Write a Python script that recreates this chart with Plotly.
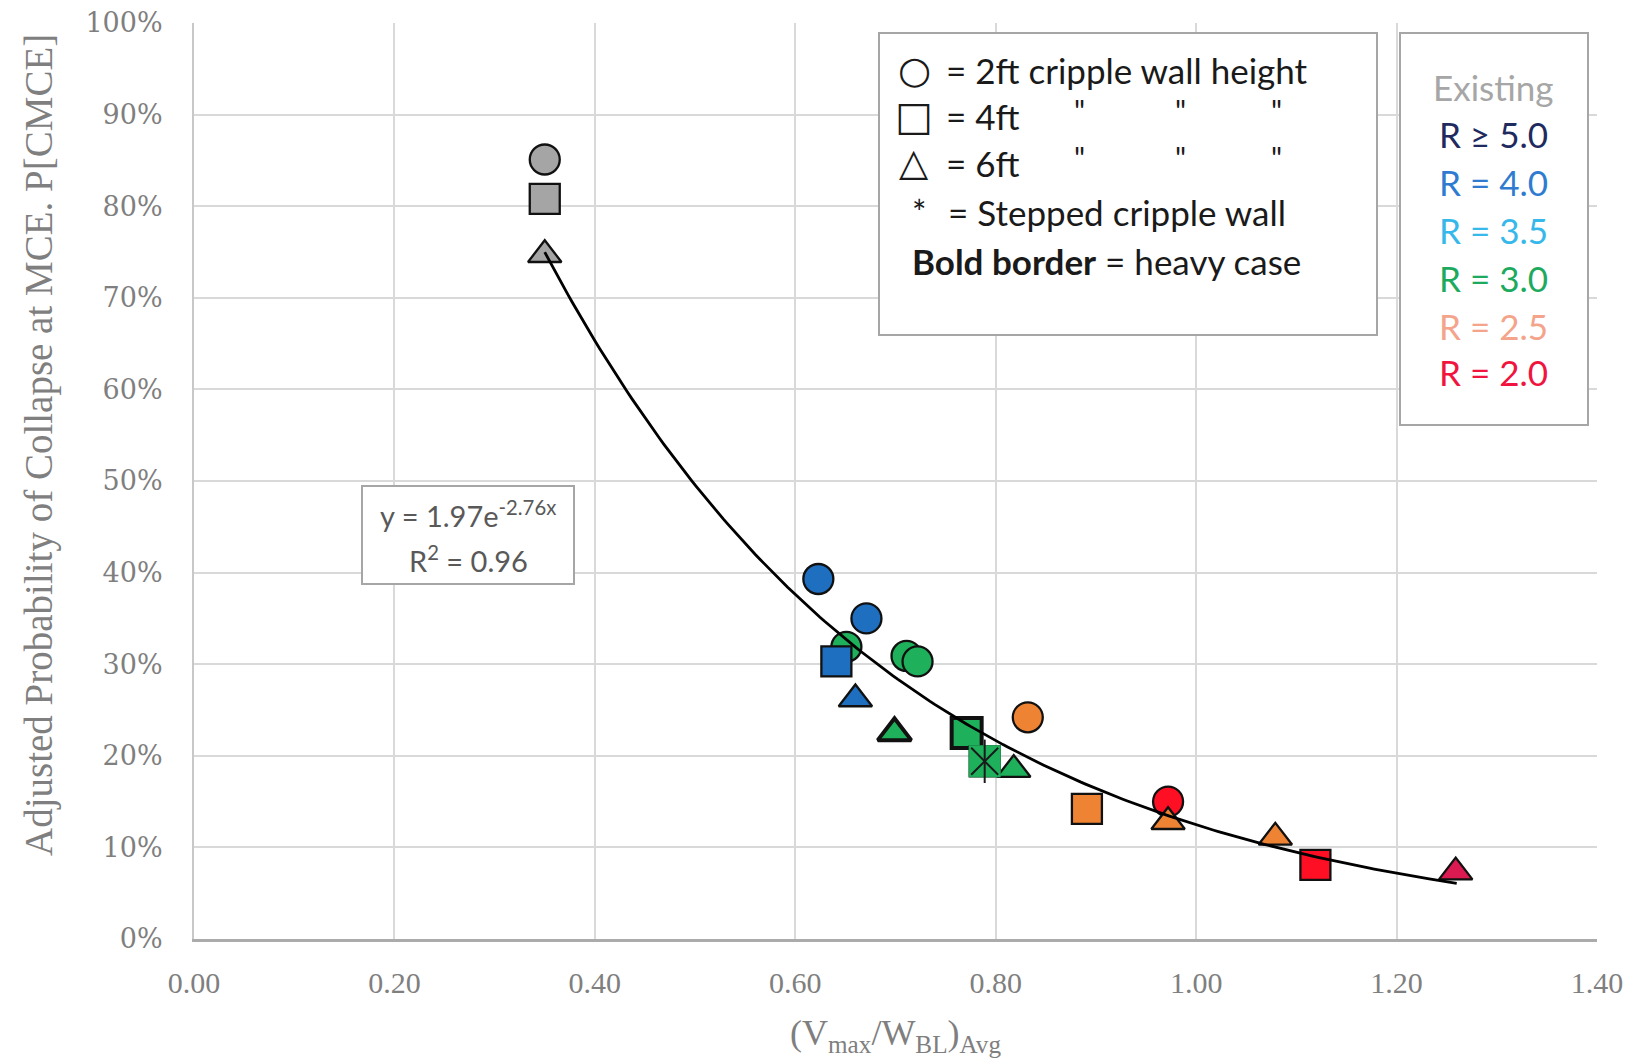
import numpy as np
import plotly.graph_objects as go

# ---------------- data ----------------
existing_x = [0.35, 0.35, 0.35]
existing_y = [0.851, 0.808, 0.747]
existing_h = [2, 4, 6]

r40_x = [0.623, 0.671, 0.641, 0.660]
r40_y = [0.393, 0.350, 0.303, 0.262]
r40_h = [2, 2, 4, 6]

r30_x = [0.651, 0.711, 0.722, 0.699, 0.771, 0.789, 0.818]
r30_y = [0.319, 0.309, 0.303, 0.225, 0.225, 0.194, 0.185]
r30_h = [2, 2, 2, 6, 4, 4, 6]
r30_heavy = [False, False, False, True, True, False, False]
r30_stepped = [False, False, False, False, False, True, False]

r25_x = [0.832, 0.891, 0.972, 1.079]
r25_y = [0.242, 0.142, 0.128, 0.111]
r25_h = [2, 4, 6, 6]

r20_x = [0.972, 1.119, 1.259]
r20_y = [0.150, 0.081, 0.073]
r20_h = [2, 4, 6]

fit_a = 1.97
fit_b = -2.76
fit_r2 = 0.96
fit_xmin, fit_xmax = 0.35, 1.26

x_ticks = [0.0, 0.2, 0.4, 0.6, 0.8, 1.0, 1.2, 1.4]
y_ticks = [0.0, 0.1, 0.2, 0.3, 0.4, 0.5, 0.6, 0.7, 0.8, 0.9, 1.0]

legend_rows = ["= 2ft cripple wall height", "= 4ft", "= 6ft", "= Stepped cripple wall"]
r_labels = ["Existing", "R \u2265 5.0", "R = 4.0", "R = 3.5", "R = 3.0", "R = 2.5", "R = 2.0"]

# ---------------- styling ----------------
W, H = 1642, 1060
ML, MR, MT, MB = 194, 45, 23, 121
PW, PH = W - ML - MR, H - MT - MB

def px_x(p):
    return (p - ML) / PW

def px_y(p):
    return (H - MB - p) / PH

symbol_of = {2: "circle", 4: "square", 6: "triangle-up"}
size_of = {2: 30, 4: 30, 6: 29}

C_GRAY = "#A5A5A5"
C_BLUE = "#1F6FC1"
C_GREEN = "#1EB05A"
C_ORANGE = "#EE8433"
C_RED = "#FF0F23"
C_CRIMSON = "#DC1A52"

fig = go.Figure()

def add_points(xs, ys, hs, colors, heavy=None):
    return list(zip(xs, ys, hs, colors, heavy if heavy else [False] * len(xs)))

allpts = []
allpts += add_points(existing_x, existing_y, existing_h, [C_GRAY] * 3)
allpts += add_points(r40_x, r40_y, r40_h, [C_BLUE] * 4)
allpts += add_points(r30_x, r30_y, r30_h, [C_GREEN] * 7, r30_heavy)
allpts += add_points(r25_x, r25_y, r25_h, [C_ORANGE] * 4)
allpts += add_points(r20_x, r20_y, r20_h, [C_RED, C_RED, C_CRIMSON])

for h in [2, 4, 6]:
    sel = [p for p in allpts if p[2] == h]
    fig.add_trace(go.Scatter(
        x=[p[0] for p in sel], y=[p[1] for p in sel], mode="markers",
        marker=dict(symbol=symbol_of[h], size=size_of[h],
                    color=[p[3] for p in sel],
                    line=dict(color="#111111", width=[4 if p[4] else 2.3 for p in sel])),
        showlegend=False, hoverinfo="x+y"))

# stepped cripple wall marker (asterisk on green square)
sx = [x for x, s in zip(r30_x, r30_stepped) if s]
sy = [y for y, s in zip(r30_y, r30_stepped) if s]
fig.add_trace(go.Scatter(x=sx, y=sy, mode="markers",
                         marker=dict(symbol="square", size=31, color=C_GREEN,
                                     line=dict(color=C_GREEN, width=1)),
                         showlegend=False))
fig.add_trace(go.Scatter(x=sx, y=sy, mode="markers",
                         marker=dict(symbol="x-thin-open", size=27, color="#1a1a1a",
                                     line=dict(color="#1a1a1a", width=2)),
                         showlegend=False))
fig.add_trace(go.Scatter(x=sx, y=sy, mode="markers",
                         marker=dict(symbol="line-ns-open", size=31, color="#1a1a1a",
                                     line=dict(color="#1a1a1a", width=2)),
                         showlegend=False))

# exponential trendline
xf = np.linspace(fit_xmin, fit_xmax, 200)
yf = fit_a * np.exp(fit_b * xf)
fig.add_trace(go.Scatter(x=xf, y=yf, mode="lines",
                         line=dict(color="#000000", width=2.8),
                         showlegend=False, hoverinfo="skip"))

TICKC = "#7F7F7F"
fig.update_xaxes(range=[0, 1.4], tickvals=x_ticks,
                 ticktext=[f"{v:.2f}" for v in x_ticks],
                 showgrid=True, gridcolor="#D9D9D9", gridwidth=2,
                 zeroline=False, showline=True, linecolor="#ABABAB", linewidth=3,
                 ticks="", ticklabelstandoff=15,
                 tickfont=dict(family="Liberation Serif", size=30, color=TICKC))
fig.update_yaxes(range=[0, 1.0], tickvals=y_ticks,
                 ticktext=[f"{int(round(v * 100))}%" for v in y_ticks],
                 showgrid=True, gridcolor="#D9D9D9", gridwidth=2,
                 zeroline=False, showline=True, linecolor="#C8C8C8", linewidth=2,
                 ticks="", ticklabelstandoff=24,
                 tickfont=dict(family="DejaVu Serif", size=27, color=TICKC))

shapes = []
annots = []

# axis titles
annots.append(dict(xref="paper", yref="paper", x=px_x(39), y=px_y(445),
                   text="Adjusted Probability of Collapse at MCE. P[CMCE]",
                   textangle=-90, showarrow=False, xanchor="center", yanchor="middle",
                   font=dict(family="Liberation Serif", size=39, color=TICKC)))
annots.append(dict(xref="paper", yref="paper", x=px_x(895), y=px_y(1035),
                   text="(V<sub>max</sub>/W<sub>BL</sub>)<sub>Avg</sub>",
                   showarrow=False, xanchor="center", yanchor="middle",
                   font=dict(family="Liberation Serif", size=36, color=TICKC)))

def box(x0, y0, x1, y1, color="#A6A6A6", width=2):
    shapes.append(dict(type="rect", xref="paper", yref="paper",
                       x0=px_x(x0), x1=px_x(x1), y0=px_y(y1), y1=px_y(y0),
                       line=dict(color=color, width=width), fillcolor="white", layer="above"))

def txt(x, y, s, size=35, color="#1a1a1a", anchor="left", family="Lato"):
    annots.append(dict(xref="paper", yref="paper", x=px_x(x), y=px_y(y), text=s,
                       showarrow=False, xanchor=anchor, yanchor="middle",
                       font=dict(family=family, size=size, color=color)))

# legend box 1
box(879, 33, 1377, 335)
LF = "Lato"
txt(914, 70, "\u25CB", size=38, anchor="center", family="DejaVu Sans")
txt(914, 116, "\u25A1", size=40, anchor="center", family="DejaVu Sans")
txt(914, 162, "\u25B3", size=38, anchor="center", family="DejaVu Sans")
txt(919, 211, "*", size=34, anchor="center", family=LF)
txt(944, 70, legend_rows[0])
txt(944, 116, legend_rows[1])
txt(944, 163, legend_rows[2])
for qx in [1079, 1180, 1276]:
    txt(qx, 110, '"', size=30, anchor="center")
    txt(qx, 157, '"', size=30, anchor="center")
txt(946, 212, legend_rows[3])
txt(910, 261, "<b>Bold border</b> = heavy case")

# legend box 2
box(1400, 33, 1588, 425)
r_colors = ["#A6A6A6", "#1F2A5E", "#2E7BD0", "#37B8EA", "#1EAA5E", "#F3A48B", "#F0143E"]
r_ys = [87, 134, 182, 230, 278, 326, 372]
for lab, col, yy in zip(r_labels, r_colors, r_ys):
    txt(1493, yy, lab, size=35, color=col, anchor="center")

# equation box
box(362, 486, 574, 584, color="#A6A6A6", width=2)
txt(468, 514, f"y = {fit_a:.2f}e<sup>{fit_b:.2f}x</sup>", size=29, color="#595959", anchor="center")
txt(468, 559, f"R<sup>2</sup> = {fit_r2:.2f}", size=29, color="#595959", anchor="center")

fig.update_layout(width=W, height=H, margin=dict(l=ML, r=MR, t=MT, b=MB, autoexpand=False),
                  plot_bgcolor="white", paper_bgcolor="white",
                  shapes=shapes, annotations=annots, showlegend=False)

fig.write_html("out.html")
